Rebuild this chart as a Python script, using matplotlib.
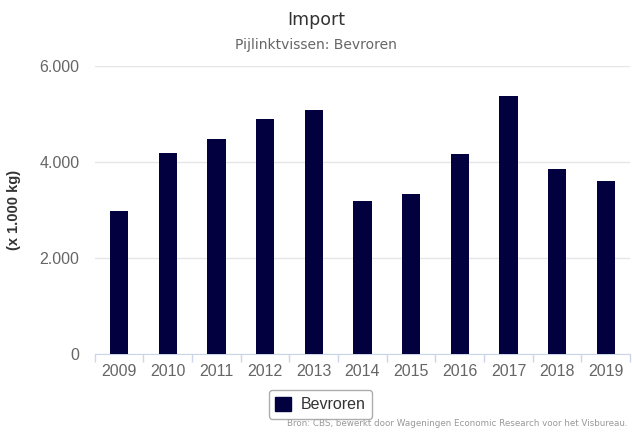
import numpy as np
import matplotlib.pyplot as plt
from matplotlib.patches import Patch

jaren = ['2009', '2010', '2011', '2012', '2013', '2014', '2015', '2016', '2017', '2018', '2019']
bevroren = [2980, 4190, 4480, 4900, 5080, 3190, 3330, 4170, 5380, 3850, 3600]
y_ticks = [0, 2000, 4000, 6000]
y_labels = ['0', '2.000', '4.000', '6.000']

navy = '#03003f'
grid = '#e6e6e6'
tekst = '#666666'

fig = plt.figure(figsize=(6.32, 4.32), dpi=100)
ax = fig.add_axes([0.150, 0.1806, 0.847, 0.6667])

x = np.arange(len(jaren))
ax.bar(x, bevroren, width=0.38, color=navy, zorder=3)

ax.set_xlim(-0.5, len(jaren) - 0.5)
ax.set_ylim(0, 6000)
ax.set_yticks(y_ticks)
ax.set_yticklabels(y_labels, family='Liberation Sans', fontsize=11.5, color=tekst)
ax.set_xticks(x)
ax.set_xticklabels(jaren, family='Liberation Sans', fontsize=11.5, color=tekst)
ax.set_xticks(np.arange(len(jaren) + 1) - 0.5, minor=True)
ax.tick_params(axis='x', which='major', length=0, pad=7)
ax.tick_params(axis='x', which='minor', length=6, color='#ccd6eb', width=1)
ax.tick_params(axis='y', length=0, pad=11)
ax.grid(axis='y', color=grid, linewidth=1, zorder=0)
for s in ['top', 'right', 'left']:
    ax.spines[s].set_visible(False)
ax.spines['bottom'].set_color('#ccd6eb')

ax.set_ylabel('(x 1.000 kg)', family='Liberation Sans', fontweight='bold',
              fontsize=10.5, color='#333333')
ax.yaxis.set_label_coords(-0.138, 0.5)

fig.text(0.5, 0.953, 'Import', ha='center', va='center', fontsize=12.5, color='#333333')
fig.text(0.5, 0.895, 'Pijlinktvissen: Bevroren', ha='center', va='center', fontsize=10, color=tekst)
fig.text(0.993, 0.010, 'Bron: CBS, bewerkt door Wageningen Economic Research voor het Visbureau.',
         ha='right', va='bottom', fontsize=6.3, color='#999999')

leg = fig.legend(handles=[Patch(color=navy, label='Bevroren')], loc='center',
                 bbox_to_anchor=(0.507, 0.064), frameon=True, fancybox=True,
                 prop={'family': 'Liberation Sans', 'size': 11.5},
                 handlelength=1.0, handleheight=1.0, handletextpad=0.6, borderpad=0.4)
leg.get_frame().set_edgecolor('#999999')
for t in leg.get_texts():
    t.set_color('#333333')

fig.savefig('out.png', dpi=100)
